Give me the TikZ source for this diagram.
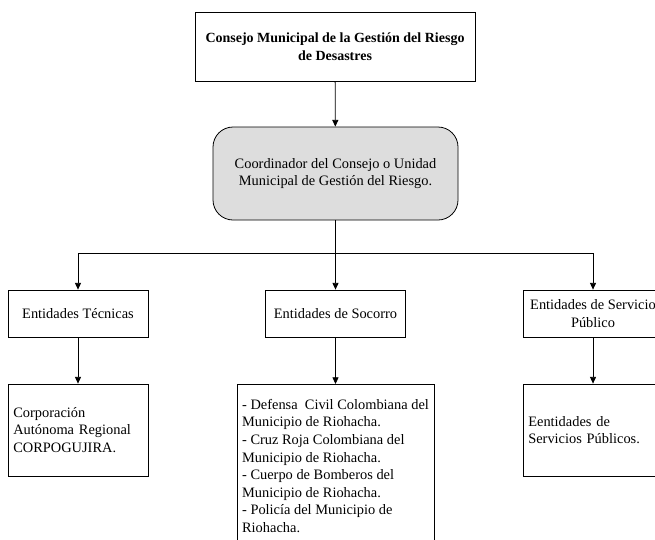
\documentclass[tikz,border=0pt]{standalone}
\usepackage{fontspec}
\setmainfont{Liberation Serif}
\usepackage{xcolor}
\usetikzlibrary{arrows.meta, positioning}
\definecolor{coordGray}{RGB}{221, 221, 221}

\begin{document}
\begin{tikzpicture}[
    x=0.75pt, y=-0.75pt,
    every node/.style={font=\fontsize{10.8}{13.2}\selectfont},
    council/.style={rectangle, draw=black, line width=0.6pt, minimum width=210pt, minimum height=51.75pt, align=center, font=\fontsize{10.5}{13.5}\selectfont\bfseries},
    coordbox/.style={rectangle, rounded corners=15pt, draw=black, fill=coordGray, line width=0.6pt, minimum width=183.75pt, minimum height=69.75pt, align=center},
    group/.style={rectangle, draw=black, line width=0.6pt, minimum width=105pt, minimum height=35.25pt, align=center, inner sep=1pt},
    members/.style={rectangle, draw=black, line width=0.6pt, minimum width=105pt, minimum height=69pt, text width=97pt, align=left, inner xsep=4pt},
    link/.style={-{Triangle[length=5pt, width=4.5pt]}, draw=black, line width=0.6pt},
]
\path[use as bounding box, clip] (0, 0) rectangle (655, 539);
\node[council] (consejo) at (335, 46.5) {Consejo Municipal de la Gestión del Riesgo\\de Desastres};
\node[coordbox] (coord) at (335.5, 173.5) {Coordinador del Consejo o Unidad\\Municipal de Gestión del Riesgo.};
\node[group] (tecnicas) at (78, 313.5) {Entidades Técnicas};
\node[group] (socorro) at (335.5, 313.5) {Entidades de Socorro};
\node[group] (servicio) at (593, 313.5) {Entidades de Servicio\\Público};
\node[members] (corpo) at (78, 430) {Corporación\\Autónoma Regional\\CORPOGUJIRA.};
\node[members, minimum width=147.75pt, text width=, anchor=north, inner xsep=2pt, inner ysep=11pt] (defensa) at (335.5, 384) {- Defensa\ \ Civil Colombiana del\\Municipio de Riohacha.\\- Cruz Roja Colombiana del\\Municipio de Riohacha.\\- Cuerpo de Bomberos del\\Municipio de Riohacha.\\- Policía del Municipio de\\Riohacha.};
\node[members] (publicos) at (593, 430) {Eentidades de\\Servicios Públicos.};
\coordinate (split) at (335.5, 253);
\draw[link] (consejo) -- (coord);
\draw[link] (coord.south) -- (split) -| (tecnicas.north);
\draw[link] (coord.south) -- (socorro.north);
\draw[link] (split) -| (servicio.north);
\draw[link] (tecnicas) -- (corpo);
\draw[link] (socorro) -- (defensa);
\draw[link] (servicio) -- (publicos);
\end{tikzpicture}
\end{document}
